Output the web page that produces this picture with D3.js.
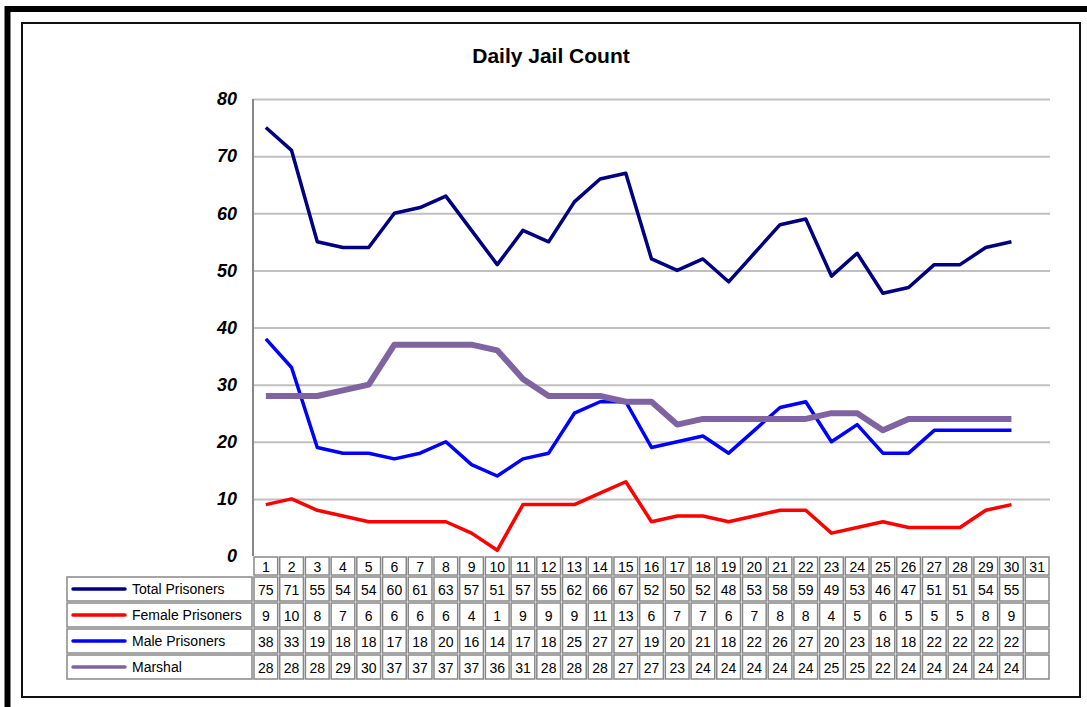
<!DOCTYPE html>
<html>
<head>
<meta charset="utf-8">
<script src="https://cdn.jsdelivr.net/npm/d3@7"></script>
<style>
    body { margin: 0; background: #fff; }
    svg { display: block; font-family: "Liberation Sans", Arial, sans-serif; }
    .grid line { stroke: #c0c0c0; stroke-width: 2; }
    .grid .domain { display: none; }
    .ylab .domain, .ylab line { display: none; }
    .cell { fill: none; stroke: #888; stroke-width: 1.5; }
    .tbl-text { font-size: 14px; fill: #000; }
</style>
</head>
<body>
<div id="svg_container"></div>
<script>
var days = d3.range(1, 32).map(String);
var totalPrisoners = [75, 71, 55, 54, 54, 60, 61, 63, 57, 51, 57, 55, 62, 66, 67, 52, 50, 52, 48, 53, 58, 59, 49, 53, 46, 47, 51, 51, 54, 55];
var femalePrisoners = [9, 10, 8, 7, 6, 6, 6, 6, 4, 1, 9, 9, 9, 11, 13, 6, 7, 7, 6, 7, 8, 8, 4, 5, 6, 5, 5, 5, 8, 9];
var malePrisoners = [38, 33, 19, 18, 18, 17, 18, 20, 16, 14, 17, 18, 25, 27, 27, 19, 20, 21, 18, 22, 26, 27, 20, 23, 18, 18, 22, 22, 22, 22];
var marshal = [28, 28, 28, 29, 30, 37, 37, 37, 37, 36, 31, 28, 28, 28, 27, 27, 23, 24, 24, 24, 24, 24, 25, 25, 22, 24, 24, 24, 24, 24];
var yTicks = [0, 10, 20, 30, 40, 50, 60, 70, 80];

var series = [
    {name: "Total Prisoners", values: totalPrisoners, color: "#000080", width: 3.5},
    {name: "Female Prisoners", values: femalePrisoners, color: "#ff0000", width: 3.5},
    {name: "Male Prisoners", values: malePrisoners, color: "#0000ff", width: 3.5},
    {name: "Marshal", values: marshal, color: "#8064a2", width: 6}
];

var width = 1087, height = 707;
var plot = {left: 253, right: 1050, top: 99, bottom: 556};
var headerH = 20, rowH = 26, legendLeft = 66;

var svg = d3.select("#svg_container")
        .append("svg")
        .attr("width", width)
        .attr("height", height);

// frames
svg.append("rect")
        .attr("x", 7.5).attr("y", 9)
        .attr("width", 1100).attr("height", 720)
        .attr("fill", "none").attr("stroke", "#000").attr("stroke-width", 6);
svg.append("rect")
        .attr("x", 22).attr("y", 23)
        .attr("width", 1058).attr("height", 674)
        .attr("fill", "#fff").attr("stroke", "#111").attr("stroke-width", 2);

svg.append("text")
        .attr("x", 551).attr("y", 63)
        .attr("text-anchor", "middle")
        .attr("font-size", 21).attr("font-weight", "bold")
        .text("Daily Jail Count");

var x = d3.scaleBand().domain(days).range([plot.left, plot.right]);
var y = d3.scaleLinear().domain([0, 80]).range([plot.bottom, plot.top]);

svg.append("g")
        .attr("class", "grid")
        .attr("transform", "translate(" + plot.left + ",0)")
        .call(d3.axisLeft(y).tickValues(yTicks.slice(1)).tickSize(-(plot.right - plot.left)).tickFormat(""));

svg.append("g")
        .attr("class", "ylab")
        .attr("transform", "translate(" + (plot.left - 16) + ",0)")
        .call(d3.axisLeft(y).tickValues(yTicks).tickSize(0).tickPadding(0))
        .selectAll("text")
        .attr("font-size", 18)
        .attr("font-weight", "bold")
        .attr("font-style", "italic")
        .attr("font-family", "'Liberation Sans', Arial, sans-serif")
        .attr("fill", "#000");

svg.append("line")
        .attr("x1", plot.left).attr("x2", plot.left)
        .attr("y1", plot.top).attr("y2", plot.bottom)
        .attr("stroke", "#888").attr("stroke-width", 2);

// lines
series.forEach(function (s) {
    var line = d3.line()
            .x(function (d, i) { return x(days[i]) + x.bandwidth() / 2; })
            .y(function (d) { return y(d); });
    svg.append("path")
            .datum(s.values)
            .attr("d", line)
            .attr("fill", "none")
            .attr("stroke", s.color)
            .attr("stroke-width", s.width)
            .attr("stroke-linejoin", "round");
});

// data table
var tbl = svg.append("g");
var bw = x.bandwidth();
days.forEach(function (d) {
    tbl.append("rect").attr("class", "cell")
            .attr("x", x(d) + 1).attr("y", plot.bottom + 1)
            .attr("width", bw - 2).attr("height", headerH - 2);
    tbl.append("text").attr("class", "tbl-text")
            .attr("x", x(d) + bw / 2).attr("y", plot.bottom + 16)
            .attr("text-anchor", "middle")
            .text(d);
});

series.forEach(function (s, r) {
    var top = plot.bottom + headerH + r * rowH;
    tbl.append("rect").attr("class", "cell")
            .attr("x", legendLeft + 1).attr("y", top + 1)
            .attr("width", plot.left - legendLeft - 2).attr("height", rowH - 2);
    tbl.append("line")
            .attr("x1", legendLeft + 7).attr("x2", legendLeft + 59)
            .attr("y1", top + 13).attr("y2", top + 13)
            .attr("stroke", s.color).attr("stroke-width", 3.5)
            .attr("stroke-linecap", "round");
    tbl.append("text").attr("class", "tbl-text")
            .attr("x", legendLeft + 66).attr("y", top + 18)
            .text(s.name);
    days.forEach(function (d, i) {
        tbl.append("rect").attr("class", "cell")
                .attr("x", x(d) + 1).attr("y", top + 1)
                .attr("width", bw - 2).attr("height", rowH - 2);
        if (s.values[i] !== undefined) {
            tbl.append("text").attr("class", "tbl-text")
                    .attr("x", x(d) + bw / 2).attr("y", top + 19)
                    .attr("text-anchor", "middle")
                    .text(s.values[i]);
        }
    });
});
</script>
</body>
</html>
